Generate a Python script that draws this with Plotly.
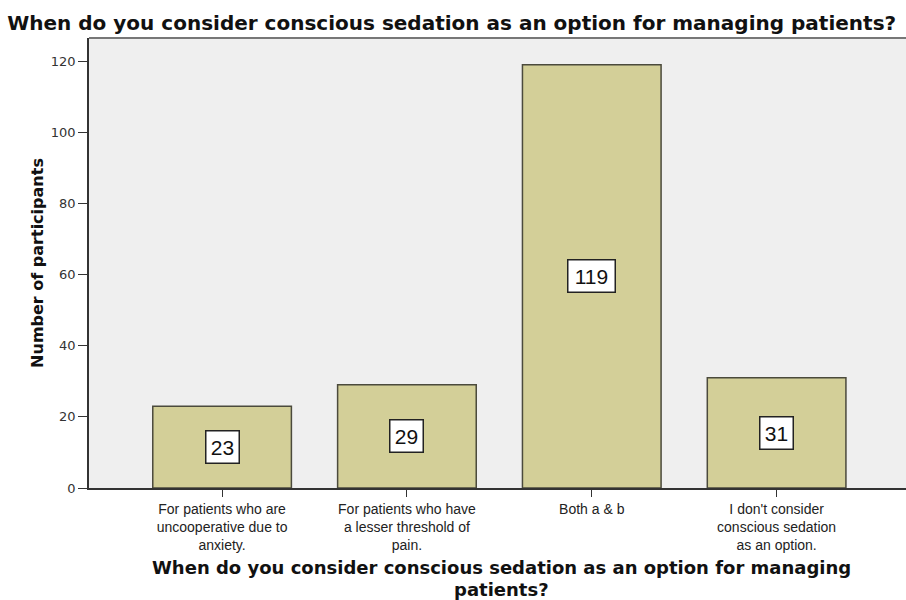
import plotly.graph_objects as go

# Survey responses
categories = [
    "For patients who are uncooperative due to anxiety.",
    "For patients who have a lesser threshold of pain.",
    "Both a & b",
    "I don't consider conscious sedation as an option.",
]
tick_labels = [
    "For patients who are<br>uncooperative due to<br>anxiety.",
    "For patients who have<br>a lesser threshold of<br>pain.",
    "Both a & b",
    "I don't consider<br>conscious sedation<br>as an option.",
]
counts = [23, 29, 119, 31]
y_ticks = [0, 20, 40, 60, 80, 100, 120]

question = "When do you consider conscious sedation as an option for managing patients?"
x_title_lines = ["When do you consider conscious sedation as an option for managing", "patients?"]

BAR_FILL = "#d3cf98"
BAR_LINE = "#4b4a3c"
PLOT_BG = "#efefef"
SANS = "Liberation Sans, Arial, sans-serif"
WIDE_BOLD = "DejaVu Sans, Verdana, sans-serif"

fig = go.Figure()
fig.add_trace(go.Bar(
    x=categories,
    y=counts,
    width=0.75,
    marker=dict(color=BAR_FILL, line=dict(color=BAR_LINE, width=1.5)),
    hoverinfo="x+y",
))

# Count labels in boxed callouts at the middle of each bar
for cat, v in zip(categories, counts):
    fig.add_annotation(
        x=cat, y=v / 2, text=str(v), showarrow=False,
        font=dict(family=SANS, size=21, color="#111"),
        width=26 if v < 100 else 40, height=25,
        bgcolor="white", bordercolor="#222", borderwidth=1.5, borderpad=3,
    )

# Horizontal axis title, set as two closely spaced lines
for i, line in enumerate(x_title_lines):
    fig.add_annotation(
        xref="paper", yref="paper", x=0.505, y=-0.1775 - i * 0.049,
        xanchor="center", yanchor="middle", showarrow=False,
        text="<b>" + line + "</b>",
        font=dict(family=WIDE_BOLD, size=18, color="#111"),
    )

fig.update_layout(
    width=906, height=600,
    margin=dict(l=89, r=0, t=38, b=112),
    paper_bgcolor="white",
    plot_bgcolor=PLOT_BG,
    showlegend=False,
    title=dict(
        text="<b>" + question + "</b>",
        x=0.008, xanchor="left", y=0.962, yanchor="middle",
        font=dict(family=WIDE_BOLD, size=20, color="#111"),
    ),
    xaxis=dict(
        type="category",
        range=[-0.72, 3.70],
        tickmode="array", tickvals=categories, ticktext=tick_labels,
        ticks="outside", ticklen=7, tickcolor="#333",
        tickfont=dict(family=SANS, size=14, color="#222"),
        showline=True, linecolor="#333", linewidth=1.5,
        showgrid=False, zeroline=False,
    ),
    yaxis=dict(
        range=[0, 126.5],
        tickmode="array", tickvals=y_ticks,
        ticks="outside", ticklen=9, tickcolor="#333",
        tickfont=dict(family=WIDE_BOLD, size=13, color="#333"),
        showline=True, linecolor="#333", linewidth=1.5,
        showgrid=False, zeroline=False,
        title=dict(
            text="<b>Number of participants</b>",
            font=dict(family=WIDE_BOLD, size=16, color="#111"),
            standoff=3,
        ),
    ),
)

# Dark border along the top edge of the plotting area
fig.add_shape(type="line", xref="paper", yref="paper", x0=0, x1=1, y0=1, y1=1,
              line=dict(color="#777", width=2))

fig.write_html("out.html")
